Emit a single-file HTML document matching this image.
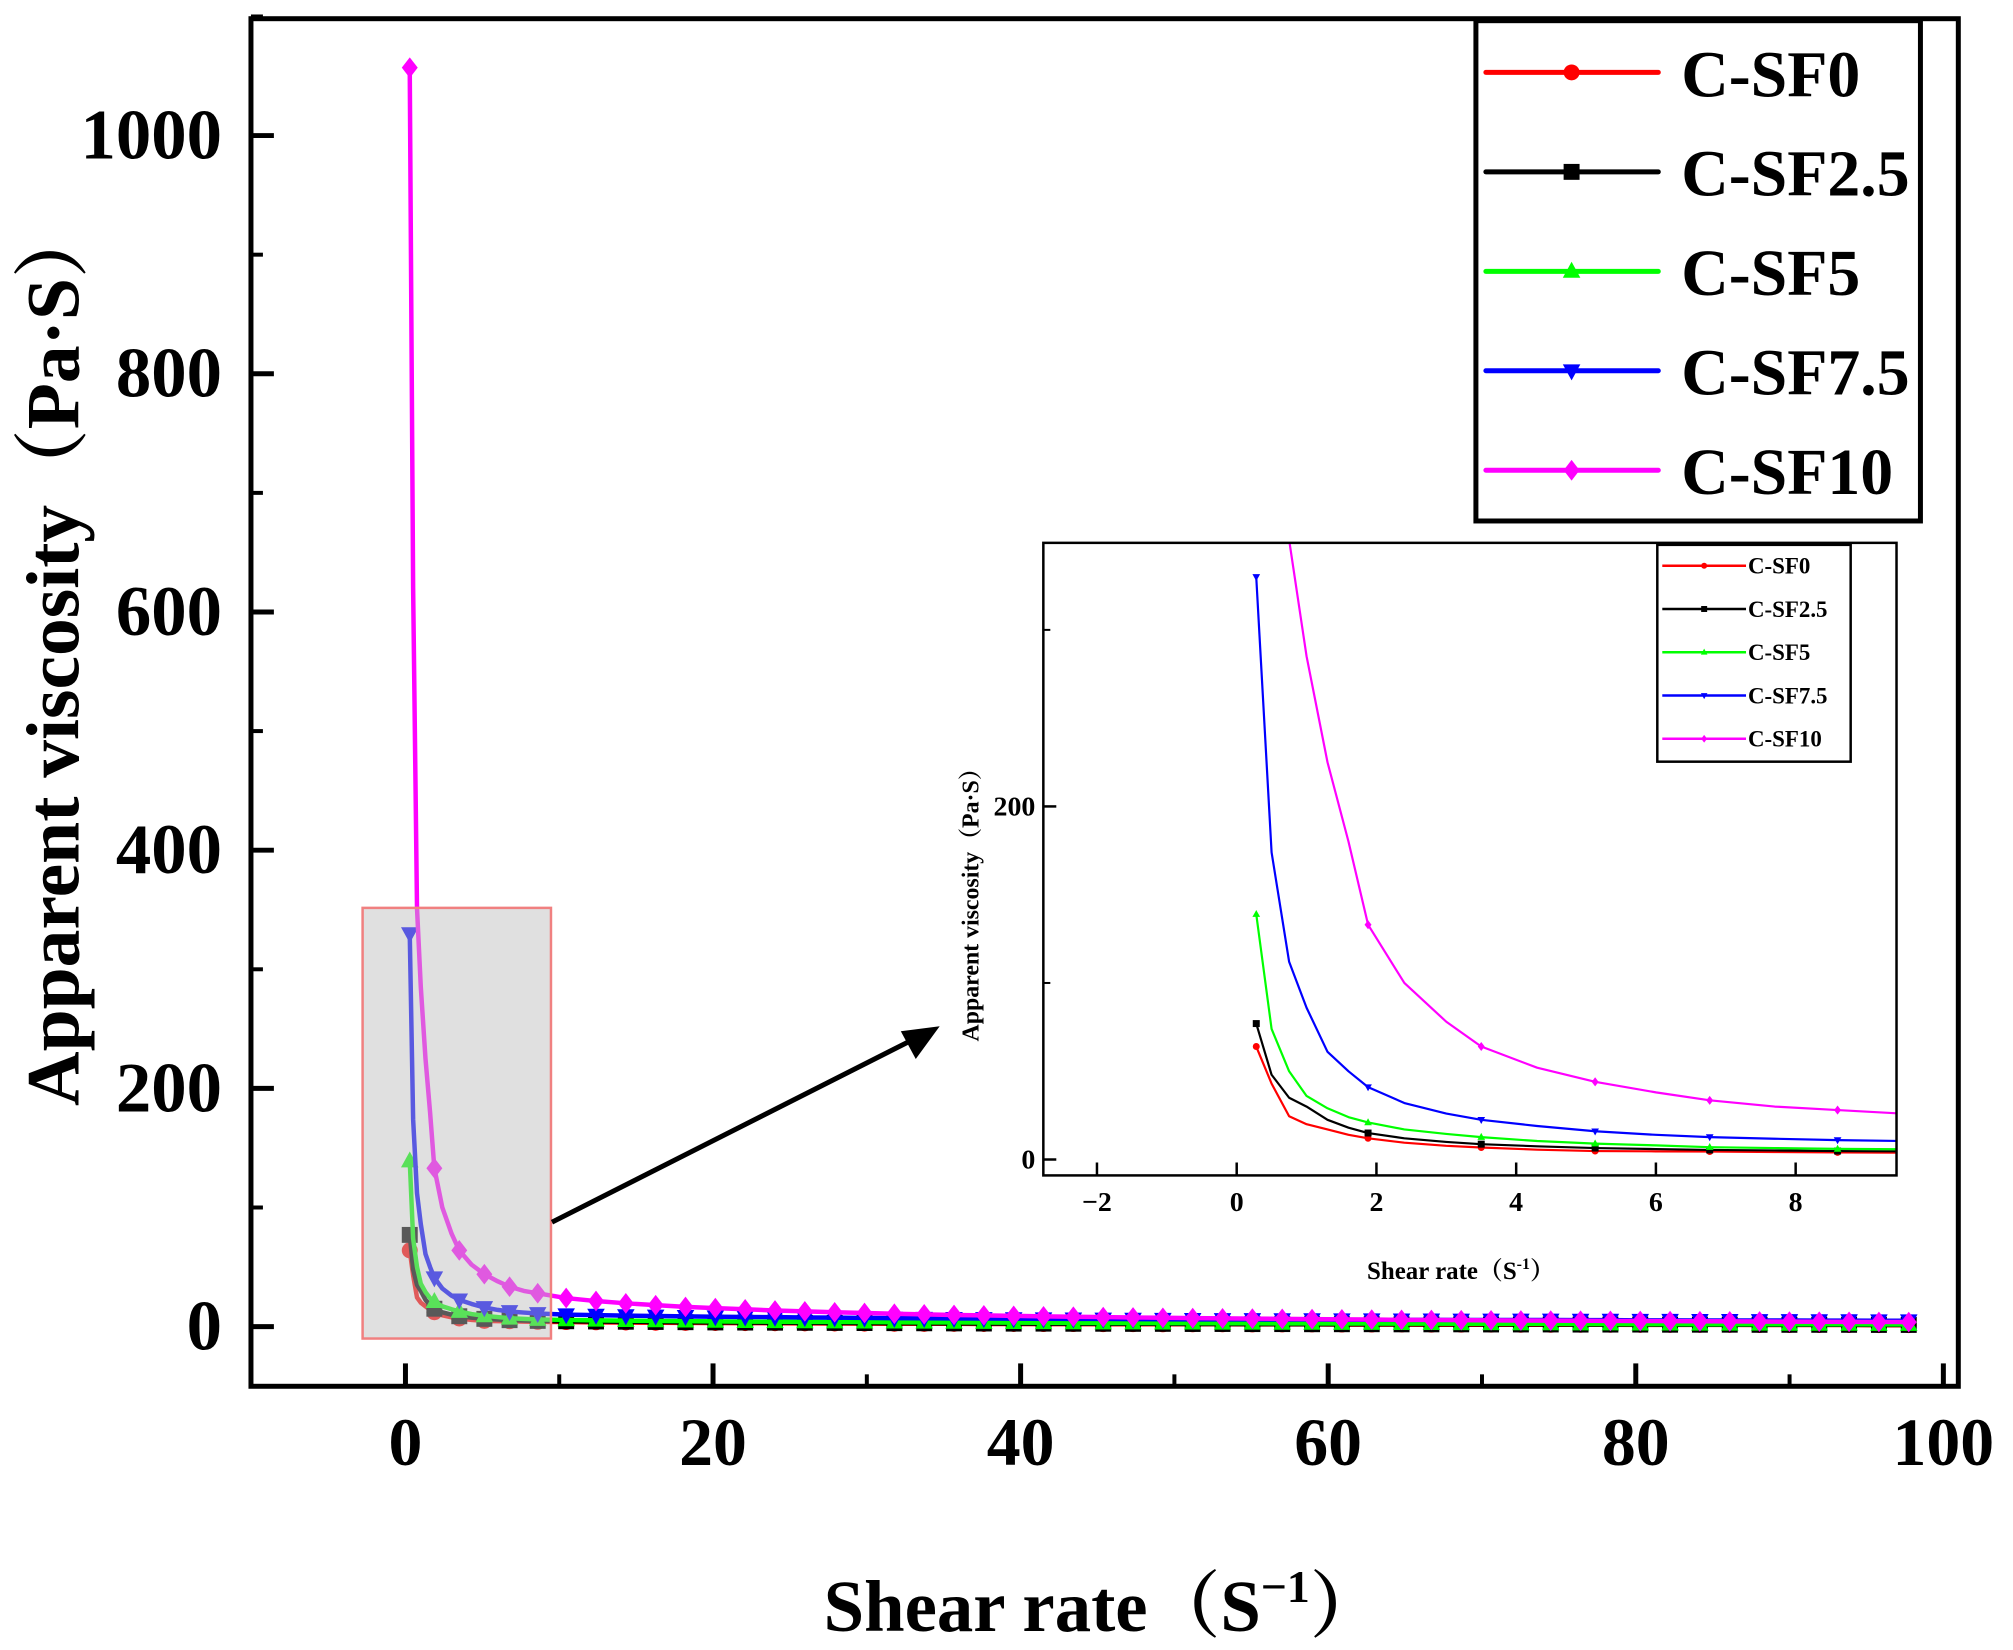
<!DOCTYPE html>
<html><head><meta charset="utf-8"><style>
html,body{margin:0;padding:0;background:#fff;}
svg{display:block;}
text{font-family:"Liberation Serif","Noto Serif CJK SC",serif;font-weight:bold;}
</style></head><body>
<svg id="chart" width="2013" height="1650" viewBox="0 0 2013 1650" xmlns="http://www.w3.org/2000/svg">
<defs>
<clipPath id="mainClip"><rect x="253" y="18" width="1713" height="1375"/></clipPath>
<clipPath id="insetClip"><rect x="1048" y="545" width="856" height="636"/></clipPath>
</defs>
<g transform="matrix(0.9967,0,0,0.9946,-1.2,0.8)">
<g id="main-series" clip-path="url(#mainClip)"></g>
<rect x="365" y="912" width="189" height="433" fill="rgba(190,190,190,0.47)" stroke="#f08080" stroke-width="2.5"/>
<rect x="253" y="18" width="1713" height="1375" fill="none" stroke="#000" stroke-width="5"/>
<g id="main-axes"></g>
<text x="80" y="657" font-size="76" text-anchor="middle" transform="rotate(-90 80 657)">Apparent viscosity（Pa·S）</text>
<text x="1108" y="1639" font-size="73" text-anchor="middle">Shear rate（S<tspan font-size="46" dy="-29">−1</tspan><tspan dy="29">）</tspan></text>
<line x1="555" y1="1228" x2="920" y2="1043" stroke="#000" stroke-width="5"/>
<polygon points="944,1031 905,1036 920,1064" fill="#000"/>
<g id="legend">
<rect x="1482" y="20" width="446" height="503" fill="#fff" stroke="#000" stroke-width="5"/>
</g>
<rect x="1048" y="545" width="856" height="636" fill="#fff"/>
<g id="inset-series" clip-path="url(#insetClip)"></g>
<rect x="1048" y="545" width="856" height="636" fill="none" stroke="#000" stroke-width="2.5"/>
<g id="inset-axes"></g>
<text x="983" y="903" font-size="24" text-anchor="middle" transform="rotate(-90 983 903)">Apparent viscosity（Pa·S）</text>
<text x="1467" y="1285" font-size="25" text-anchor="middle">Shear rate（S<tspan font-size="16" dy="-10">-1</tspan><tspan dy="10">）</tspan></text>
<g id="inset-legend">
<rect x="1664" y="547" width="194" height="218" fill="#fff" stroke="#000" stroke-width="2.5"/>
</g>
</g>
</svg>
<script>
const seriesNames = ["C-SF0","C-SF2.5","C-SF5","C-SF7.5","C-SF10"];
const seriesColors = ["#ff0000","#000000","#00ff00","#0000ff","#ff00ff"];
const seriesShapes = ["circle","square","triUp","triDown","diamond"];
const shearRate = [0.28,0.5,0.75,1.0,1.3,1.6,1.88,2.4,3.0,3.5,4.3,5.13,6.0,6.77,7.7,8.6,
10.45,12.39,14.33,16.27,18.21,20.15,22.09,24.03,25.97,27.91,29.85,31.79,33.73,35.67,37.61,39.55,41.49,43.43,45.37,47.31,49.25,51.19,53.13,55.07,57.01,58.95,60.89,62.83,64.77,66.71,68.65,70.59,72.53,74.47,76.41,78.35,80.29,82.23,84.17,86.11,88.05,89.99,91.93,93.87,95.81,97.75];
const markerIdx = [0,6,9,11,13,15,16,17,18,19,20,21,22,23,24,25,26,27,28,29,30,31,32,33,34,35,36,37,38,39,40,41,42,43,44,45,46,47,48,49,50,51,52,53,54,55,56,57,58,59,60,61];
const csf0 = [64,43,24.5,20,17,14,12,9.5,7.8,6.8,5.6,4.8,4.6,4.5,4.2,4,
3.8,3.6,3.4,3.2,3.1,3,2.9,2.8,2.7,2.6,2.5,2.4,2.3,2.3,2.2,2.2,2.1,2.1,2,2,1.9,1.9,1.9,1.8,1.8,1.8,1.7,1.7,1.7,1.6,1.6,1.6,1.5,1.5,1.5,1.5,1.4,1.4,1.4,1.4,1.3,1.3,1.3,1.3,1.2,1.2];
const csf25 = [77,48,35,30,22.5,18,15,12,10,8.7,7.5,6.5,5.9,5.4,5.1,4.8,
4.5,4.3,4.1,3.9,3.7,3.5,3.4,3.3,3.2,3.1,3,2.9,2.8,2.7,2.6,2.5,2.5,2.4,2.4,2.3,2.3,2.2,2.2,2.1,2.1,2,2,2,1.9,1.9,1.9,1.8,1.8,1.8,1.7,1.7,1.7,1.6,1.6,1.6,1.5,1.5,1.5,1.5,1.4,1.4];
const csf5 = [139,74,50,36,29,24,21,17,14.5,12.7,10.5,9,8,7,6.5,6,
5.6,5.3,5,4.8,4.6,4.4,4.2,4.1,4,3.9,3.8,3.7,3.6,3.5,3.4,3.3,3.2,3.1,3,3,2.9,2.9,2.8,2.8,2.7,2.7,2.6,2.6,2.5,2.5,2.4,2.4,2.3,2.3,2.2,2.2,2.1,2.1,2,2,2,1.9,1.9,1.9,1.8,1.8];
const csf75 = [330,174,112,86,61,50,41,32,26,22.5,19,16,14,12.7,11.8,11,
10,9.6,9.2,8.9,8.6,8.3,8.1,7.9,7.7,7.5,7.3,7.1,7,6.9,6.8,6.7,6.6,6.5,6.4,6.3,6.2,6.1,6,6,5.9,5.9,5.8,5.8,5.7,5.7,5.6,5.6,5.5,5.5,5.4,5.4,5.3,5.3,5.2,5.2,5.1,5.1,5,5,4.9,4.9];
const csf10 = [1057,620,351,285,225,180,133,100,78,64,52,44,38,33.5,30,28,
24,21.5,19.5,18,16.5,15.5,14.5,13.5,12.8,12,11.4,10.8,10.3,9.8,9.4,9,8.6,8.3,8,7.7,7.4,7.1,6.9,6.7,6.5,6.3,6.1,5.9,5.7,5.6,5.4,5.3,5.1,5.0,4.9,4.8,4.7,4.6,4.5,4.4,4.3,4.2,4.1,4.0,3.9,3.8];
const allSeries = [csf0,csf25,csf5,csf75,csf10];
const mainXTicks = [0,20,40,60,80,100];
const mainYTicks = [0,200,400,600,800,1000];
const insetXTicks = [-2,0,2,4,6,8];
const insetYTicks = [0,200];

const NS="http://www.w3.org/2000/svg";
function mk(tag,attrs,parent){const e=document.createElementNS(NS,tag);for(const k in attrs)e.setAttribute(k,attrs[k]);parent.appendChild(e);return e;}
const mx=v=>408+v*15.43;
const my=v=>1333-v*1.1975;
const ix=v=>1242+v*70.1;
const iy=v=>1165-v*1.775;

function marker(g,shape,cx,cy,r,color){
  let e;
  if(shape==="circle") e=mk("circle",{cx:cx,cy:cy,r:r,fill:color},g);
  else if(shape==="square") e=mk("rect",{x:cx-r,y:cy-r,width:2*r,height:2*r,fill:color},g);
  else if(shape==="triUp") e=mk("polygon",{points:`${cx},${cy-r*1.2} ${cx-r*1.1},${cy+r*0.8} ${cx+r*1.1},${cy+r*0.8}`,fill:color},g);
  else if(shape==="triDown") e=mk("polygon",{points:`${cx},${cy+r*1.2} ${cx-r*1.1},${cy-r*0.8} ${cx+r*1.1},${cy-r*0.8}`,fill:color},g);
  else e=mk("polygon",{points:`${cx},${cy-r*1.3} ${cx+r},${cy} ${cx},${cy+r*1.3} ${cx-r},${cy}`,fill:color},g);
  
  
  return e;
}

function drawSeries(gId,fx,fy,lw,mr,maxX,prefix){
  const g=document.getElementById(gId);
  allSeries.forEach((vals,s)=>{
    const sg=mk("g",{},g);
    
    
    const pts=[];
    shearRate.forEach((x,i)=>{if(x<=maxX+2)pts.push(fx(x).toFixed(1)+","+fy(vals[i]).toFixed(1));});
    const pl=mk("polyline",{points:pts.join(" "),fill:"none",stroke:seriesColors[s],"stroke-width":lw,"stroke-linejoin":"round"},sg);
    
    
    markerIdx.forEach(i=>{if(shearRate[i]<=maxX+2)marker(sg,seriesShapes[s],fx(shearRate[i]),fy(vals[i]),mr,seriesColors[s]);});
  });
}
drawSeries("main-series",mx,my,4.5,8,120,"main");
drawSeries("inset-series",ix,iy,2.2,3.5,10,"inset");

const ma=document.getElementById("main-axes");
mainXTicks.forEach(t=>{
  const l=mk("line",{x1:mx(t),x2:mx(t),y1:1393,y2:1370,stroke:"#000","stroke-width":5},ma);
  
  
  const tx=mk("text",{x:mx(t),y:1472,"font-size":68,"text-anchor":"middle"},ma);
  tx.textContent=t;
  
  
  if(t<100){const m=mk("line",{x1:mx(t+10),x2:mx(t+10),y1:1393,y2:1381,stroke:"#000","stroke-width":4},ma);
  
  }
});
mainYTicks.forEach(t=>{
  const l=mk("line",{x1:253,x2:276,y1:my(t),y2:my(t),stroke:"#000","stroke-width":5},ma);
  
  
  const tx=mk("text",{x:224,y:my(t)+23,"font-size":71,"text-anchor":"end"},ma);
  tx.textContent=t;
  
  
  const m=mk("line",{x1:253,x2:265,y1:my(t+100),y2:my(t+100),stroke:"#000","stroke-width":4},ma);
  
  
});

const ia=document.getElementById("inset-axes");
insetXTicks.forEach(t=>{
  const l=mk("line",{x1:ix(t),x2:ix(t),y1:1181,y2:1168,stroke:"#000","stroke-width":2.5},ia);
  
  
  const tx=mk("text",{x:ix(t),y:1217,"font-size":28,"text-anchor":"middle"},ia);
  tx.textContent=(t<0?"−"+(-t):t);
  
  
});
insetYTicks.forEach(t=>{
  const l=mk("line",{x1:1048,x2:1061,y1:iy(t),y2:iy(t),stroke:"#000","stroke-width":2.5},ia);
  
  
  const tx=mk("text",{x:1040,y:iy(t)+9,"font-size":28,"text-anchor":"end"},ia);
  tx.textContent=t;
  
  
  const m=mk("line",{x1:1048,x2:1055,y1:iy(t+100),y2:iy(t+100),stroke:"#000","stroke-width":2},ia);
  
  
});

const lg=document.getElementById("legend");
const ilg=document.getElementById("inset-legend");
seriesNames.forEach((n,s)=>{
  const y=72+s*100;
  const e=mk("g",{},lg);
  
  
  mk("line",{x1:1492,x2:1665,y1:y,y2:y,stroke:seriesColors[s],"stroke-width":5,"stroke-linecap":"round"},e);
  marker(e,seriesShapes[s],1578,y,8,seriesColors[s]);
  const tx=mk("text",{x:1688,y:y+24,"font-size":66},e);
  tx.textContent=n;
  
  

  const iyy=568+s*43.5;
  const ie=mk("g",{},ilg);
  
  
  mk("line",{x1:1669,x2:1753,y1:iyy,y2:iyy,stroke:seriesColors[s],"stroke-width":2.5},ie);
  marker(ie,seriesShapes[s],1711,iyy,3,seriesColors[s]);
  const it=mk("text",{x:1755,y:iyy+8,"font-size":23},ie);
  it.textContent=n;
  
  
});
</script>
</body></html>
